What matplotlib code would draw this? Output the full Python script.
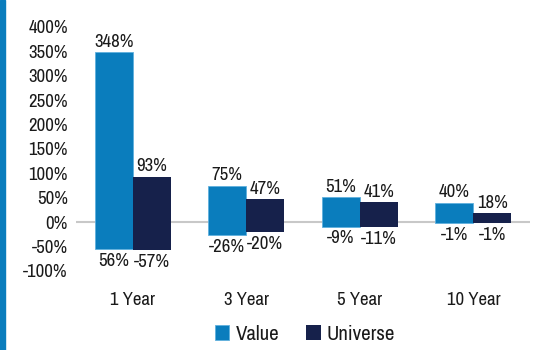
import matplotlib
matplotlib.use("Agg")
import matplotlib.pyplot as plt
import numpy as np
from matplotlib.patches import Rectangle

plt.rcParams["font.family"] = ["Archivo Narrow", "DejaVu Sans"]
plt.rcParams["font.weight"] = 500

periods = ["1 Year", "3 Year", "5 Year", "10 Year"]
value_high = [348, 75, 51, 40]
value_low = [-56, -26, -9, -1]
universe_high = [93, 47, 41, 18]
universe_low = [-57, -20, -11, -1]
value_low_labels = ["56%", "-26%", "-9%", "-1%"]
universe_low_labels = ["-57%", "-20%", "-11%", "-1%"]
yticks = [-100, -50, 0, 50, 100, 150, 200, 250, 300, 350, 400]

VALUE_COLOR = "#0a7dbd"
UNIVERSE_COLOR = "#16214b"
TEXT_COLOR = "#1a1a1a"

fig = plt.figure(figsize=(5.35, 3.5), dpi=100)
ax = fig.add_axes([0.142, 0.226, 0.849, 0.697])

# blue stripe on the left edge
fig.patches.append(Rectangle((0, 0), 5 / 535, 1, transform=fig.transFigure,
                             color=VALUE_COLOR, zorder=0))

x = np.arange(len(periods))
w = 0.335
vh = np.array(value_high)
vl = np.array(value_low)
uh = np.array(universe_high)
ul = np.array(universe_low)

ax.axhline(0, color="#c8c8c8", lw=1.5, zorder=1)
ax.bar(x - w / 2, vh - vl, bottom=vl, width=w, color=VALUE_COLOR,
       edgecolor="#5fb0de", linewidth=0.6, label="Value", zorder=2)
ax.bar(x + w / 2, uh - ul, bottom=ul, width=w, color=UNIVERSE_COLOR,
       label="Universe", zorder=2)

fs = 13.5
for i in range(len(periods)):
    ax.text(x[i] - w / 2, vh[i] + 5, f"{vh[i]}%", ha="center", va="bottom", fontsize=fs, color=TEXT_COLOR)
    ax.text(x[i] + w / 2, uh[i] + 5, f"{uh[i]}%", ha="center", va="bottom", fontsize=fs, color=TEXT_COLOR)
    ax.text(x[i] - w / 2, vl[i] - 8, value_low_labels[i], ha="center", va="top", fontsize=fs, color=TEXT_COLOR)
    ax.text(x[i] + w / 2, ul[i] - 8, universe_low_labels[i], ha="center", va="top", fontsize=fs, color=TEXT_COLOR)

ax.set_xlim(-0.5, 3.5)
ax.set_ylim(-100, 400)
ax.set_yticks(yticks)
ax.set_yticklabels([f"{t}%" for t in yticks], fontsize=fs, color=TEXT_COLOR)
ax.set_xticks(x)
ax.set_xticklabels(periods, fontsize=fs, color=TEXT_COLOR)
ax.tick_params(axis="both", length=0)
ax.tick_params(axis="y", pad=6)
ax.tick_params(axis="x", pad=15)
for s in ax.spines.values():
    s.set_visible(False)

fig.legend(loc="center", bbox_to_anchor=(0.57, 0.045), ncol=2, frameon=False,
           fontsize=15, handlelength=0.7, handleheight=0.7, handletextpad=0.3,
           columnspacing=1.3, labelcolor=TEXT_COLOR)

fig.savefig("out.png", dpi=100)
